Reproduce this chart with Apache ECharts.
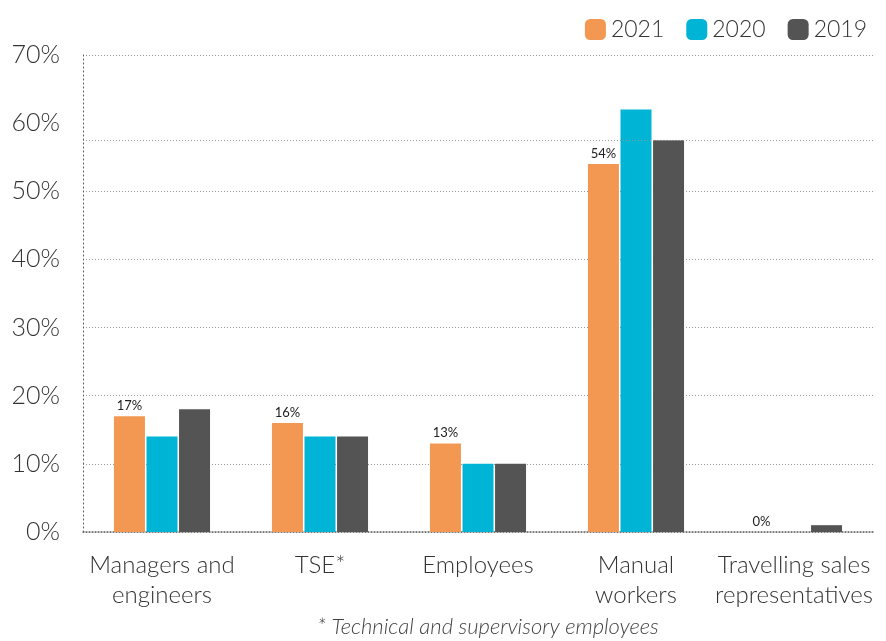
<!DOCTYPE html>
<html>
<head>
<meta charset="utf-8">
<script src="https://cdn.jsdelivr.net/npm/echarts@6/dist/echarts.min.js"></script>
<style>
  html, body { margin: 0; padding: 0; background: #fff; }
  #chart-panel { width: 886px; height: 641px; }
</style>
</head>
<body>
<div id="chart-panel"></div>
<script>
// 类别与数据
var categories = ['Managers and\nengineers', 'TSE*', 'Employees', 'Manual\nworkers', 'Travelling sales\nrepresentatives'];
var years = ['2021', '2020', '2019'];
var values2021 = [17, 16, 13, 54, 0];
var values2020 = [14, 14, 10, 62, 0];
var values2019 = [18, 14, 10, 57.5, 1];
var yTicks = [0, 10, 20, 30, 40, 50, 60, 70];
var footnote = '* Technical and supervisory employees';

var colors = ['#f39852', '#00b4d6', '#545454'];
var fontName = 'Lato';
var gridColor = '#999';

let chartPanel = document.getElementById('chart-panel');
let myChart = echarts.init(chartPanel);

// 60% 的网格线在原图里是偏移的（画在 2019 年柱顶的位置），这里隐藏它
var splitColors = yTicks.map(function (t) {
  return t === 60 ? 'rgba(0,0,0,0)' : gridColor;
});

function barSeries(name, data, idx, withLabel) {
  return {
    name: name,
    type: 'bar',
    data: data,
    barWidth: 31,
    barGap: '5%',
    itemStyle: { color: colors[idx] },
    label: {
      show: withLabel,
      position: 'top',
      distance: 4,
      formatter: '{c}%',
      color: '#222',
      fontSize: 13,
      fontFamily: fontName
    }
  };
}

var s2019 = barSeries(years[2], values2019, 2, false);
s2019.markLine = {
  silent: true,
  symbol: 'none',
  label: { show: false },
  lineStyle: { color: gridColor, type: [1, 2], width: 1 },
  data: [{ yAxis: values2019[3] }]
};

myChart.setOption({
  backgroundColor: '#fff',
  color: colors,
  textStyle: { fontFamily: fontName },
  legend: {
    data: years,
    right: 14,
    top: 13,
    itemWidth: 21,
    itemHeight: 21,
    itemGap: 22,
    textStyle: { fontSize: 23, color: '#333', fontFamily: fontName, fontWeight: 300 }
  },
  title: {
    text: footnote,
    left: 483,
    textAlign: 'center',
    bottom: -2,
    textStyle: { fontSize: 22, fontStyle: 'italic', fontWeight: 300, color: '#444', fontFamily: fontName }
  },
  grid: { left: 83, right: 13, top: 55, bottom: 109, containLabel: false },
  xAxis: {
    type: 'category',
    data: categories,
    axisTick: { show: false },
    axisLine: { lineStyle: { color: '#666', type: [1, 2], width: 1.5 } },
    axisLabel: {
      fontSize: 24,
      color: '#333',
      fontWeight: 300,
      lineHeight: 30,
      margin: 18,
      interval: 0
    }
  },
  yAxis: {
    type: 'value',
    min: yTicks[0],
    max: yTicks[yTicks.length - 1],
    interval: 10,
    axisLine: { show: true, lineStyle: { color: '#555', type: [1, 3] } },
    axisTick: { show: false },
    splitLine: { lineStyle: { color: splitColors, type: [1, 2] } },
    axisLabel: {
      formatter: '{value}%',
      fontSize: 25,
      color: '#333',
      fontWeight: 300,
      margin: 23
    }
  },
  series: [
    barSeries(years[0], values2021, 0, true),
    barSeries(years[1], values2020, 1, false),
    s2019
  ]
});

window.onresize = function () {
  myChart.resize();
};
</script>
</body>
</html>
